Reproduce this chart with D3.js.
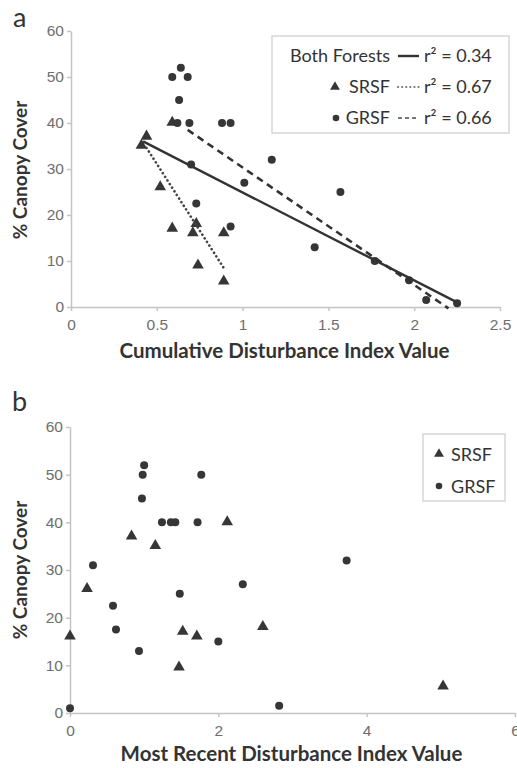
<!DOCTYPE html>
<html>
<head>
<meta charset="utf-8">
<style>
    body { margin: 0; background: #fff; }
    svg { display: block; font-family: Lato, "Open Sans", sans-serif; }
    .tick text { fill: #6e6e6e; font-size: 15.5px; }
    .axis path, .axis line { stroke: #c4c4c4; stroke-width: 1.5; }
    .titulo { fill: #333; font-weight: bold; }
    .leg { fill: #333; font-size: 18px; }
</style>
<script src="https://cdn.jsdelivr.net/npm/d3@7"></script>
</head>
<body>
<svg width="517" height="768"></svg>
<script>
    // painel a: indice cumulativo de perturbacao x % de cobertura
    var srsfA = [[0.41, 35], [0.44, 37], [0.59, 40], [0.52, 26], [0.59, 17], [0.71, 16],
                 [0.73, 18], [0.74, 9], [0.89, 16], [0.89, 5.5]];
    var grsfA = [[0.59, 50], [0.64, 52], [0.68, 50], [0.63, 45], [0.62, 40], [0.69, 40],
                 [0.88, 40], [0.93, 40], [0.70, 31], [1.17, 32], [1.01, 27], [0.73, 22.5],
                 [0.93, 17.5], [1.57, 25], [1.42, 13], [1.77, 10], [1.97, 5.8], [2.07, 1.5], [2.25, 0.8]];
    // retas de regressao (extremos)
    var linhaAmbas = [[0.42, 36], [2.25, 1]];
    var linhaSrsf = [[0.44, 34.6], [0.89, 8.5]];
    var linhaGrsf = [[0.68, 38.5], [2.2, -0.3]];
    var r2 = ["0.34", "0.67", "0.66"];

    // painel b: indice da perturbacao mais recente
    var srsfB = [[0, 16], [0.23, 26], [0.83, 37], [1.15, 35], [2.12, 40], [1.52, 17],
                 [1.71, 16], [1.47, 9.5], [2.6, 18], [5.03, 5.5]];
    var grsfB = [[0, 1], [0.31, 31], [0.58, 22.5], [0.62, 17.5], [0.93, 13], [0.97, 45],
                 [0.98, 50], [1.0, 52], [1.24, 40], [1.36, 40], [1.42, 40], [1.48, 25],
                 [1.72, 40], [1.77, 50], [2.0, 15], [2.33, 27], [2.82, 1.5], [3.73, 32]];

    var ticksXA = [0, 0.5, 1, 1.5, 2, 2.5];
    var ticksXB = [0, 2, 4, 6];
    var ticksY = [0, 10, 20, 30, 40, 50, 60];

    var svg = d3.select("svg");
    var cor = "#363636";
    var tri = d3.symbol().type(d3.symbolTriangle).size(58);
    var triLeg = d3.symbol().type(d3.symbolTriangle).size(42);

    function painel(g, xs, ys, ticksX, titulo, yTx, tituloY, yTitulo) {
        g.append("g").attr("class", "axis")
            .attr("transform", "translate(0," + ys(0) + ")")
            .call(d3.axisBottom(xs).tickValues(ticksX).tickSize(4).tickSizeOuter(0)
                .tickPadding(8).tickFormat(d3.format("~g")));
        g.append("g").attr("class", "axis")
            .attr("transform", "translate(" + xs(0) + ",0)")
            .call(d3.axisLeft(ys).tickValues(ticksY).tickSize(4).tickSizeOuter(0).tickPadding(3));
        var xm = (xs.range()[0] + xs.range()[1]) / 2;
        g.append("text").attr("class", "titulo")
            .attr("x", xm - 1).attr("y", yTx)
            .attr("text-anchor", "middle").style("font-size", "20.5px").text(titulo);
        g.append("text").attr("class", "titulo")
            .attr("transform", "translate(27," + yTitulo + ") rotate(-90)")
            .attr("text-anchor", "middle").style("font-size", "19px").text(tituloY);
    }

    function pontos(g, xs, ys, srsf, grsf) {
        g.selectAll(".g").data(grsf).enter().append("circle")
            .attr("cx", function (d) { return xs(d[0]); })
            .attr("cy", function (d) { return ys(d[1]); })
            .attr("r", 4).style("fill", cor);
        g.selectAll(".s").data(srsf).enter().append("path")
            .attr("d", tri)
            .attr("transform", function (d) { return "translate(" + xs(d[0]) + "," + (ys(d[1]) - 0.5) + ")"; })
            .style("fill", cor);
    }

    // ---- painel a ----
    var xa = d3.scaleLinear().domain([0, 2.5]).range([71, 500]);
    var ya = d3.scaleLinear().domain([0, 60]).range([307, 31]);
    var ga = svg.append("g");
    painel(ga, xa, ya, ticksXA, "Cumulative Disturbance Index Value", 358, "% Canopy Cover", 170);

    var linha = d3.line().x(function (d) { return xa(d[0]); }).y(function (d) { return ya(d[1]); });
    pontos(ga, xa, ya, srsfA, grsfA);
    ga.append("path").attr("d", linha(linhaAmbas))
        .style("fill", "none").style("stroke", "#333").style("stroke-width", 2.4);
    ga.append("path").attr("d", linha(linhaSrsf))
        .style("fill", "none").style("stroke", "#444").style("stroke-width", 2.6)
        .style("stroke-dasharray", "0.1,4.2").style("stroke-linecap", "round");
    ga.append("path").attr("d", linha(linhaGrsf))
        .style("fill", "none").style("stroke", "#333").style("stroke-width", 2.6)
        .style("stroke-dasharray", "7,5");

    ga.append("text").attr("x", 13).attr("y", 27).style("font-size", "27px").style("fill", "#333").text("a");

    // legenda a
    var leg = ga.append("g");
    leg.append("rect").attr("x", 272).attr("y", 36).attr("width", 237).attr("height", 97)
        .style("fill", "#fff").style("stroke", "#ccc").style("stroke-width", 1.2);
    var nomes = ["Both Forests", "SRSF", "GRSF"];
    var tracos = [null, "0.1,4", "4,3"];
    nomes.forEach(function (n, i) {
        var yb = 62 + i * 31;
        leg.append("text").attr("class", "leg").attr("x", 390).attr("y", yb)
            .attr("text-anchor", "end").text(n);
        var l = leg.append("line").attr("x1", 398).attr("x2", 419)
            .attr("y1", yb - 6).attr("y2", yb - 6)
            .style("stroke", i === 0 ? "#333" : "#777").style("stroke-width", i === 0 ? 2.4 : 2.2);
        if (tracos[i]) l.style("stroke-dasharray", tracos[i]).style("stroke-linecap", i === 1 ? "round" : "butt");
        leg.append("text").attr("class", "leg").attr("x", 424).attr("y", yb).text("r² = " + r2[i]);
    });
    leg.append("path").attr("d", triLeg).attr("transform", "translate(335,87)").style("fill", cor);
    leg.append("circle").attr("cx", 336).attr("cy", 118).attr("r", 3.3).style("fill", cor);

    // ---- painel b ----
    var xb = d3.scaleLinear().domain([0, 6]).range([70, 515]);
    var yb = d3.scaleLinear().domain([0, 60]).range([713, 427]);
    var gb = svg.append("g");
    painel(gb, xb, yb, ticksXB, "Most Recent Disturbance Index Value", 761, "% Canopy Cover", 570);
    pontos(gb, xb, yb, srsfB, grsfB);
    gb.append("text").attr("x", 12).attr("y", 411).style("font-size", "27px").style("fill", "#333").text("b");

    var legb = gb.append("g");
    legb.append("rect").attr("x", 423).attr("y", 434).attr("width", 82).attr("height", 67)
        .style("fill", "#fff").style("stroke", "#ccc").style("stroke-width", 1.2);
    legb.append("path").attr("d", triLeg).attr("transform", "translate(439,454)").style("fill", cor);
    legb.append("circle").attr("cx", 439).attr("cy", 486).attr("r", 3.3).style("fill", cor);
    legb.append("text").attr("class", "leg").attr("x", 451).attr("y", 461).text("SRSF");
    legb.append("text").attr("class", "leg").attr("x", 451).attr("y", 493).text("GRSF");
</script>
</body>
</html>
